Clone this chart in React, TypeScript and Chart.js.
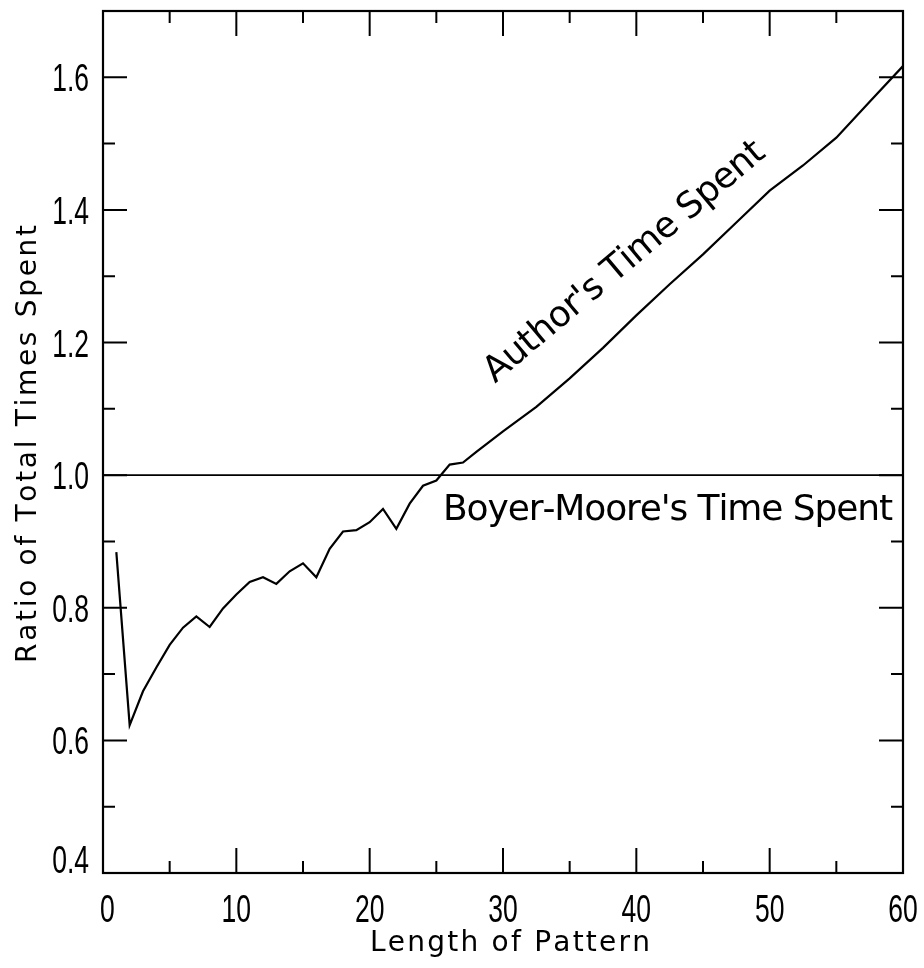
import React, { useEffect, useRef } from "react";
import { Chart, registerables } from "chart.js";
Chart.register(...registerables);

// ---- data ----
const patternLengths = [
  1, 2, 3, 4, 5, 6, 7, 8, 9, 10, 11, 12, 13, 14, 15, 16, 17, 18, 19, 20, 21, 22, 23, 24, 25, 26, 27, 28,
  30, 32.5, 35, 37.5, 40, 42.5, 45, 47.5, 50, 52.5, 55, 57.5, 60,
];
const authorRatio = [
  0.884, 0.623, 0.674, 0.71, 0.744, 0.77, 0.787, 0.771, 0.799, 0.82, 0.839, 0.846, 0.836, 0.855, 0.867,
  0.846, 0.889, 0.915, 0.917, 0.929, 0.949, 0.919, 0.957, 0.984, 0.992, 1.016, 1.019, 1.035,
  1.066, 1.103, 1.146, 1.192, 1.241, 1.288, 1.333, 1.381, 1.429, 1.467, 1.509, 1.563, 1.617,
];
const boyerMooreX = [0, 60];
const boyerMooreRatio = [1.0, 1.0];

const xTickValues = [0, 10, 20, 30, 40, 50, 60];
const xTickLabels = ["0", "10", "20", "30", "40", "50", "60"];
const yTickValues = [0.4, 0.6, 0.8, 1.0, 1.2, 1.4, 1.6];
const yTickLabels = ["0.4", "0.6", "0.8", "1.0", "1.2", "1.4", "1.6"];

const xTitle = "Length of Pattern";
const yTitle = "Ratio of Total Times Spent";
const authorLabel = "Author's Time Spent";
const boyerLabel = "Boyer-Moore's Time Spent";

const X_MIN = 0;
const X_MAX = 60;
const Y_MIN = 0.4;
const Y_MAX = 1.7;
const X_MINOR = 5;
const Y_MINOR = 0.1;

const TICK_FONT = "39px 'Liberation Sans', Arial, sans-serif";
const TITLE_FONT = "28px 'DejaVu Sans', 'Liberation Sans', sans-serif";
const LABEL_FONT = "36px 'DejaVu Sans', 'Liberation Sans', sans-serif";

function drawTracked(
  ctx: CanvasRenderingContext2D,
  text: string,
  x: number,
  y: number,
  width: number,
  align: "left" | "center"
) {
  const chars = Array.from(text);
  const advs = chars.map((c) => ctx.measureText(c).width);
  const natural = advs.reduce((a, b) => a + b, 0);
  const sp = chars.length > 1 ? (width - natural) / (chars.length - 1) : 0;
  let cx = align === "center" ? x - width / 2 : x;
  ctx.textAlign = "left";
  chars.forEach((c, i) => {
    ctx.fillText(c, cx, y);
    cx += advs[i] + sp;
  });
}

const framePlugin = {
  id: "framePlugin",
  beforeDraw(chart: any) {
    const { ctx, width, height } = chart;
    ctx.save();
    ctx.fillStyle = "#ffffff";
    ctx.fillRect(0, 0, width, height);
    ctx.restore();
  },
  afterDraw(chart: any) {
    const { ctx, chartArea } = chart;
    const { left, right, top, bottom } = chartArea;
    const xs = chart.scales.x;
    const ys = chart.scales.y;
    ctx.save();
    ctx.strokeStyle = "#000";
    ctx.fillStyle = "#000";
    ctx.lineWidth = 2.2;
    ctx.strokeRect(left, top, right - left, bottom - top);

    // inward ticks on all four sides
    ctx.lineWidth = 2;
    ctx.beginPath();
    for (let v = X_MIN; v <= X_MAX + 1e-9; v += X_MINOR) {
      const px = xs.getPixelForValue(v);
      const len = Math.round(v) % 10 === 0 ? 25 : 12;
      ctx.moveTo(px, bottom);
      ctx.lineTo(px, bottom - len);
      ctx.moveTo(px, top);
      ctx.lineTo(px, top + len);
    }
    for (let i = 0; Y_MIN + i * Y_MINOR <= Y_MAX + 1e-9; i++) {
      const v = Y_MIN + i * Y_MINOR;
      const py = ys.getPixelForValue(v);
      const len = i % 2 === 0 ? 24 : 12;
      ctx.moveTo(left, py);
      ctx.lineTo(left + len, py);
      ctx.moveTo(right, py);
      ctx.lineTo(right - len, py);
    }
    ctx.stroke();

    // tick labels (condensed)
    ctx.font = TICK_FONT;
    ctx.textBaseline = "alphabetic";
    xTickValues.forEach((v, i) => {
      const px = xs.getPixelForValue(v);
      ctx.save();
      if (i === 0) {
        ctx.translate(left - 3, bottom + 49);
        ctx.scale(0.68, 1);
        ctx.textAlign = "left";
      } else {
        ctx.translate(px, bottom + 49);
        ctx.scale(0.68, 1);
        ctx.textAlign = "center";
      }
      ctx.fillText(xTickLabels[i], 0, 0);
      ctx.restore();
    });
    yTickValues.forEach((v, i) => {
      const py = ys.getPixelForValue(v);
      ctx.save();
      const base = i === 0 ? py : py + 14;
      ctx.translate(left - 14, base);
      ctx.scale(0.68, 1);
      ctx.textAlign = "right";
      ctx.fillText(yTickLabels[i], 0, 0);
      ctx.restore();
    });

    // axis titles
    ctx.font = TITLE_FONT;
    drawTracked(ctx, xTitle, (left + right) / 2 + 7, bottom + 78, 280, "center");
    ctx.save();
    ctx.translate(36, (top + bottom) / 2 + 2);
    ctx.rotate(-Math.PI / 2);
    drawTracked(ctx, yTitle, 0, 0, 438, "center");
    ctx.restore();

    // curve annotations
    ctx.font = LABEL_FONT;
    drawTracked(ctx, boyerLabel, xs.getPixelForValue(25.5), ys.getPixelForValue(0.932), 450, "left");
    ctx.save();
    ctx.translate(xs.getPixelForValue(29.4), ys.getPixelForValue(1.138));
    ctx.rotate((-40 * Math.PI) / 180);
    drawTracked(ctx, authorLabel, 0, 0, 355, "left");
    ctx.restore();

    ctx.restore();
  },
};

export default function App() {
  const canvasRef = useRef<HTMLCanvasElement | null>(null);

  useEffect(() => {
    if (!canvasRef.current) return;
    const chart = new Chart(canvasRef.current, {
      type: "line",
      data: {
        datasets: [
          {
            label: "Author's Time Spent",
            data: patternLengths.map((x, i) => ({ x, y: authorRatio[i] })),
            borderColor: "#000",
            borderWidth: 2.2,
            pointRadius: 0,
            tension: 0,
            fill: false,
          },
          {
            label: "Boyer-Moore's Time Spent",
            data: boyerMooreX.map((x, i) => ({ x, y: boyerMooreRatio[i] })),
            borderColor: "#000",
            borderWidth: 1.8,
            pointRadius: 0,
            tension: 0,
            fill: false,
          },
        ],
      },
      options: {
        responsive: false,
        animation: false,
        devicePixelRatio: 1,
        layout: { padding: { left: 103, right: 21, top: 11, bottom: 95 } },
        plugins: { legend: { display: false }, tooltip: { enabled: false } },
        scales: {
          x: { type: "linear", min: X_MIN, max: X_MAX, display: false },
          y: { type: "linear", min: Y_MIN, max: Y_MAX, display: false },
        },
      },
      plugins: [framePlugin],
    });
    return () => chart.destroy();
  }, []);

  return (
    <div style={{ position: "absolute", left: 0, top: 0, width: 924, height: 968, background: "#fff" }}>
      <canvas ref={canvasRef} width={924} height={968} style={{ display: "block" }} />
    </div>
  );
}
